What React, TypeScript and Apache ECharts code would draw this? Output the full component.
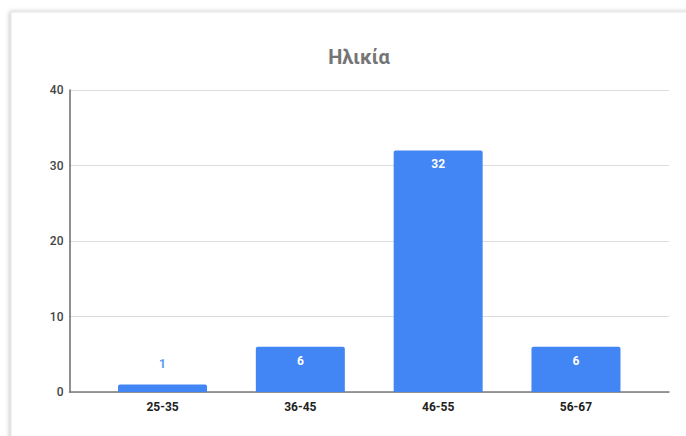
import React, { useEffect, useRef } from "react";
import * as echarts from "echarts";

// Age groups and respondent counts
const ageGroups: string[] = ["25-35", "36-45", "46-55", "56-67"];
const counts: number[] = [1, 6, 32, 6];
const yTicks: number[] = [0, 10, 20, 30, 40];
const chartTitle = "Ηλικία";

const BAR_BLUE = "#4285F4";

export default function App() {
  const ref = useRef<HTMLDivElement>(null);

  useEffect(() => {
    if (!ref.current) return;
    const chart = echarts.init(ref.current, undefined, { renderer: "svg" });

    const barData = counts.map((v, i) => {
      const short = v < 3;
      return {
        value: [i, v],
        label: short
          ? { position: "top", distance: 14, color: "#5b9bf7" }
          : { position: "insideTop", distance: 8, color: "#ffffff" },
      };
    });

    chart.setOption({
      animation: false,
      backgroundColor: "#ffffff",
      textStyle: { fontFamily: "Roboto, 'Noto Sans', sans-serif" },
      graphic: [
        {
          type: "rect",
          z: -10,
          shape: { x: 11, y: 12, width: 700, height: 460 },
          style: {
            fill: "#ffffff",
            stroke: "#e4e4e4",
            lineWidth: 1,
            shadowBlur: 4,
            shadowColor: "rgba(0,0,0,0.25)",
            shadowOffsetX: -1,
          },
        },
      ],
      title: {
        text: chartTitle,
        left: 354,
        top: 42,
        textAlign: "center",
        textStyle: {
          fontFamily: "Roboto, sans-serif",
          fontSize: 20,
          fontWeight: "bold",
          color: "#757575",
        },
      },
      grid: { left: 69.5, right: 17, top: 90, bottom: 44 },
      xAxis: {
        type: "value",
        min: -0.675,
        max: 3.675,
        splitLine: { show: false },
        axisTick: { show: false },
        axisLine: { show: true, onZero: false, lineStyle: { color: "#7a7a7a", width: 1.5 } },
        axisLabel: {
          customValues: ageGroups.map((_, i) => i),
          formatter: (v: number) => ageGroups[Math.round(v)] ?? "",
          fontSize: 12,
          fontWeight: "bold",
          color: "#222222",
          margin: 9,
        },
      },
      yAxis: {
        type: "value",
        min: yTicks[0],
        max: yTicks[yTicks.length - 1],
        interval: 10,
        axisLine: { show: true, onZero: false, lineStyle: { color: "#6a6a6a", width: 1.5 } },
        axisTick: { show: false },
        splitLine: { lineStyle: { color: "#dcdcdc", width: 1 } },
        axisLabel: {
          fontSize: 12,
          fontWeight: 500,
          color: "#444444",
          margin: 6,
        },
      },
      series: [
        {
          type: "bar",
          data: barData,
          barWidth: 89,
          itemStyle: { color: BAR_BLUE, borderRadius: [2, 2, 0, 0] },
          label: {
            show: true,
            fontSize: 12,
            fontWeight: "bold",
            formatter: (p: any) => String(p.value[1]),
          },
        },
      ],
    });

    return () => chart.dispose();
  }, []);

  return (
    <div
      ref={ref}
      style={{ position: "absolute", left: 0, top: 0, width: 686, height: 436 }}
    />
  );
}
